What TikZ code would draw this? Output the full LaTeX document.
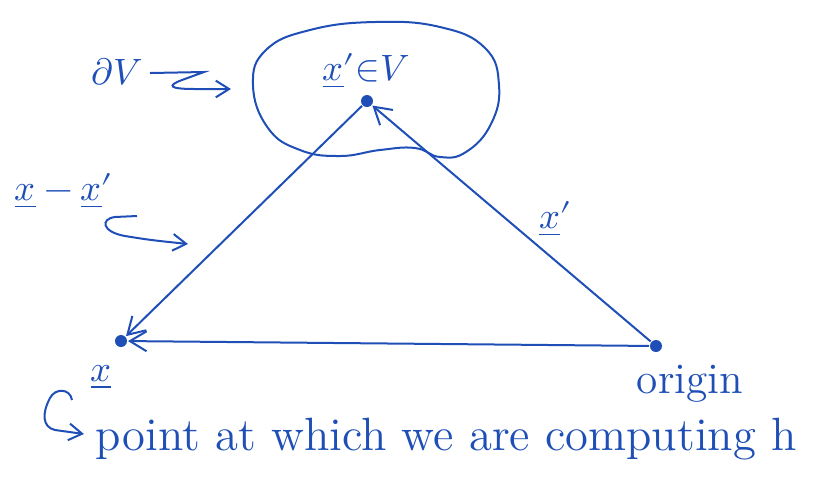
\documentclass[tikz,border=0pt]{standalone}
\usepackage{fontspec}
\usepackage{unicode-math}
\usetikzlibrary{arrows.meta}
\definecolor{ink}{RGB}{30,78,182}
\begin{document}
\begin{tikzpicture}[x=0.3pt,y=-0.3pt, line width=0.6pt, color=ink,
  dot/.style={circle,fill=ink,draw=none,inner sep=0pt,minimum size=3.6pt},
  vec/.style={draw=ink,-{Straight Barb[length=5pt,width=6pt]}},
  note/.style={draw=ink,-{Straight Barb[length=4pt,width=5pt]}},
  lbl/.style={text=ink,inner sep=0pt,font=\fontsize{11}{13}\selectfont},
  big/.style={text=ink,inner sep=0pt,font=\fontsize{14}{16}\selectfont},
  mid/.style={text=ink,inner sep=0pt,font=\fontsize{13}{15}\selectfont}]
\useasboundingbox (0,0) rectangle (817,486);
% region boundary
\draw[ink] plot[smooth cycle, tension=0.75] coordinates {(253,85) (266,50) (310,30) (375,22) (440,27) (485,48) (499,85) (491,124) (466,152) (440,157) (415,148) (380,150) (340,156) (300,150) (268,128)};
% points
\node[dot] (x) at (121,341) {};
\node[dot] (xp) at (367,101) {};
\node[dot] (o) at (656,346) {};
% vectors
\draw[vec] (o) -- (xp);
\draw[vec] (xp) -- (x);
\draw[vec] (o) -- (x);
% labels
\node[lbl] (dV) at (117,72) {$\partial V$};
\node[lbl] (xpin) at (366,71) {$\underline{x}'{\in}V$};
\node[lbl, anchor=west] (xmx) at (14,191) {$\underline{x}-\underline{x}'$};
\node[lbl] (xpl) at (556,219) {$\underline{x}'$};
\node[lbl] (xl) at (101,377) {$\underline{x}$};
\node[big, anchor=base west] (pt) at (95,450) {point at which we are computing h};
\node[mid, anchor=base west] (orig) at (636,393) {origin};
% annotation arrows
\coordinate (a1) at (150,73);
\coordinate (a2) at (231,89);
\draw[note] (a1) -- (204,72) -- (182,80) .. controls (166,86) and (170,89) .. (195,89) -- (a2);
\coordinate (b1) at (137,216);
\coordinate (b2) at (188,244);
\draw[note] (b1) -- (115,217) .. controls (100,219) and (102,232) .. (125,236) .. controls (150,240) .. (b2);
\coordinate (c1) at (72,400);
\coordinate (c2) at (84,434);
\draw[note] (c1) .. controls (70,388) and (55,388) .. (50,398) .. controls (42,413) and (42,427) .. (55,430) -- (c2);
\end{tikzpicture}
\end{document}
